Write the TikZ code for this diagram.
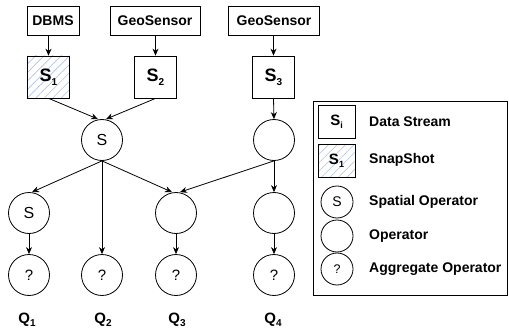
\documentclass[tikz,border=0pt]{standalone}
\usepackage{fontspec}
\setmainfont{Liberation Sans}
\usetikzlibrary{arrows.meta,patterns.meta}
\definecolor{hatch}{RGB}{175,195,225}
\newcommand{\mysub}[1]{\raisebox{-.4ex}{\fontsize{10}{10}\selectfont #1}}
\newcommand{\mysubs}[1]{\raisebox{-.4ex}{\fontsize{9}{9}\selectfont #1}}
\begin{document}
\begin{tikzpicture}[x=1pt,y=-1pt,
  src/.style={draw,line width=0.8pt,minimum height=29pt,inner sep=0pt,font=\fontsize{14}{14}\selectfont\bfseries},
  strm/.style={draw,line width=0.8pt,minimum width=42pt,minimum height=42pt,inner sep=0pt,font=\fontsize{18}{18}\selectfont\bfseries},
  snap/.style={pattern={Lines[angle=45,distance=6pt,line width=0.6pt]},pattern color=hatch},
  op/.style={draw,circle,line width=0.8pt,minimum size=41pt,inner sep=0pt,font=\fontsize{16}{16}\selectfont},
  agg/.style={op,font=\fontsize{15}{15}\selectfont},
  lop/.style={draw,circle,line width=0.8pt,minimum size=32pt,inner sep=0pt,font=\fontsize{14}{14}\selectfont},
  lstrm/.style={draw,line width=0.8pt,minimum width=37pt,minimum height=33pt,inner sep=0pt,font=\fontsize{15}{15}\selectfont\bfseries},
  ltxt/.style={anchor=west,inner sep=0pt,font=\fontsize{14}{14}\selectfont\bfseries},
  qlab/.style={inner sep=0pt,font=\fontsize{15}{15}\selectfont\bfseries},
  arr/.style={-{Stealth[length=7pt,width=6pt]},line width=0.8pt}]
\useasboundingbox (0,0) rectangle (509,329);
% sources
\node[src,minimum width=52pt] (dbms) at (53,20.5) {DBMS};
\node[src,minimum width=90pt] (gs1) at (155,20.5) {GeoSensor};
\node[src,minimum width=91pt] (gs2) at (274,20.5) {GeoSensor};
% streams
\node[strm,snap] (s1) at (48.5,77) {S\mysub{1}};
\node[strm] (s2) at (155.5,77) {S\mysub{2}};
\node[strm] (s3) at (273.5,77) {S\mysub{3}};
% operators
\node[op] (sop) at (102,140) {S};
\node[op] (rop) at (274,140) {};
\node[op] (a1) at (29,213) {S};
\node[op] (a3) at (176,213) {};
\node[op] (a4) at (274,213) {};
\node[agg] (q1) at (29,275) {?};
\node[agg] (q2) at (102,275) {?};
\node[agg] (q3) at (176,275) {?};
\node[agg] (q4) at (274,275) {?};
% labels
\node[qlab] (l1) at (27,320) {Q\mysub{1}};
\node[qlab] (l2) at (103,320) {Q\mysub{2}};
\node[qlab] (l3) at (177,320) {Q\mysub{3}};
\node[qlab] (l4) at (273,320) {Q\mysub{4}};
% connectors
\draw[arr] (dbms.south -| s1) -- (s1.north);
\draw[arr] (gs1.south -| s2) -- (s2.north);
\draw[arr] (gs2.south -| s3) -- (s3.north);
\draw[arr] (s1.south) -- ([xshift=-4pt]sop.north);
\draw[arr] (s2.south) -- ([xshift=4pt]sop.north);
\draw[arr] (s3.south) -- (rop.north);
\draw[arr] (sop.south) -- ([xshift=3pt]a1.north);
\draw[arr] (sop.south) -- (q2.north);
\draw[arr] (sop.south) -- ([xshift=-4pt]a3.north);
\draw[arr] (rop.south) -- ([xshift=4pt]a3.north);
\draw[arr] (rop.south) -- (a4.north);
\draw[arr] (a1.south) -- (q1.north);
\draw[arr] (a3.south) -- (q3.north);
\draw[arr] (a4.south) -- (q4.north);
% legend
\node[draw,line width=0.8pt,minimum width=194pt,minimum height=194pt,inner sep=0pt] (leg) at (410,198) {};
\node[lstrm] (ls) at (336.5,122) {S\mysubs{i}};
\node[lstrm,snap] (lsn) at (336.5,161) {S\mysubs{1}};
\node[lop] (lsp) at (337,202) {S};
\node[lop] (lo) at (337,236) {};
\node[lop,font=\fontsize{12.5}{12.5}\selectfont] (la) at (337,269) {?};
\node[ltxt] (t1) at (369,122) {Data Stream};
\node[ltxt] (t2) at (369,160) {SnapShot};
\node[ltxt] (t3) at (369,202) {Spatial Operator};
\node[ltxt] (t4) at (369,236) {Operator};
\node[ltxt] (t5) at (369,269) {Aggregate Operator};
\end{tikzpicture}
\end{document}
